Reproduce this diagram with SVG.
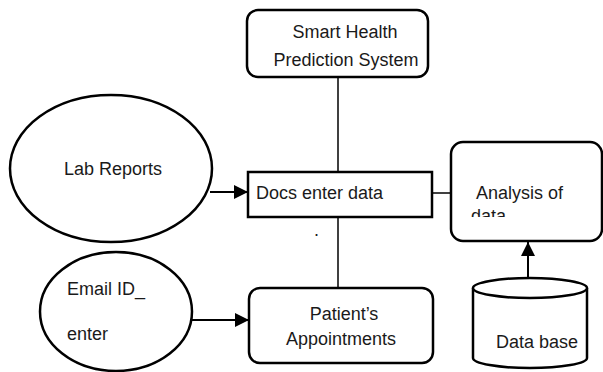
<svg xmlns="http://www.w3.org/2000/svg" width="603" height="372" viewBox="0 0 603 372">
  <style>
    .shape { fill: #ffffff; stroke: #000000; stroke-width: 2.5; }
    .line { fill: none; stroke: #000000; stroke-width: 1.5; }
    .arrow { fill: none; stroke: #000000; stroke-width: 2; }
    .label { font-family: "Liberation Sans", Arial, sans-serif; font-size: 18px; fill: #1a1a1a; }
  </style>
  <defs>
    <marker id="head" markerWidth="14" markerHeight="14" viewBox="0 0 14 14" refX="14" refY="7" orient="auto" markerUnits="userSpaceOnUse">
      <path d="M0,0 L14,7 L0,14 Z" fill="#000000"/>
    </marker>
    <clipPath id="analysisClip">
      <rect x="450" y="141" width="153" height="76"/>
    </clipPath>
  </defs>

  <!-- connectors -->
  <g id="connectors">
    <line class="line" x1="338" y1="77" x2="338" y2="172"/>
    <line class="line" x1="338" y1="217" x2="338" y2="288"/>
    <line class="line" x1="432" y1="193" x2="451" y2="193"/>
    <line class="arrow" x1="210" y1="192" x2="248" y2="192" marker-end="url(#head)"/>
    <line class="arrow" x1="192" y1="320" x2="249" y2="320" marker-end="url(#head)"/>
    <line class="arrow" x1="528" y1="282" x2="528" y2="242" marker-end="url(#head)"/>
  </g>

  <g id="smart-health">
    <rect class="shape" x="247" y="10" width="181" height="67" rx="11"/>
    <text class="label" x="345" y="38" text-anchor="middle">Smart Health</text>
    <text class="label" x="346" y="66" text-anchor="middle">Prediction System</text>
  </g>

  <g id="lab-reports">
    <ellipse class="shape" cx="111" cy="168.5" rx="101" ry="73.5"/>
    <text class="label" x="113" y="175" text-anchor="middle">Lab Reports</text>
  </g>

  <g id="docs-enter-data">
    <rect class="shape" x="248" y="172" width="184" height="45" stroke-width="3"/>
    <text class="label" x="256" y="199">Docs enter data</text>
    <text class="label" x="314" y="236">.</text>
  </g>

  <g id="analysis">
    <rect class="shape" x="451" y="142" width="151" height="99" rx="12"/>
    <g clip-path="url(#analysisClip)">
      <text class="label" x="476" y="199">Analysis of</text>
      <text class="label" x="471" y="222">data</text>
    </g>
  </g>

  <g id="email-id">
    <ellipse class="shape" cx="116" cy="311.5" rx="76" ry="59.5"/>
    <text class="label" x="67" y="295">Email ID_</text>
    <text class="label" x="67" y="340">enter</text>
  </g>

  <g id="appointments">
    <rect class="shape" x="249" y="288" width="184" height="75" rx="11"/>
    <text class="label" x="344" y="320" text-anchor="middle">Patient’s</text>
    <text class="label" x="341" y="345" text-anchor="middle">Appointments</text>
  </g>

  <g id="database">
    <path class="shape" d="M473,288 L473,358 A57,10 0 0 0 587,358 L587,288"/>
    <ellipse class="shape" cx="530" cy="288" rx="57" ry="10"/>
    <text class="label" x="496" y="348">Data base</text>
  </g>
</svg>
